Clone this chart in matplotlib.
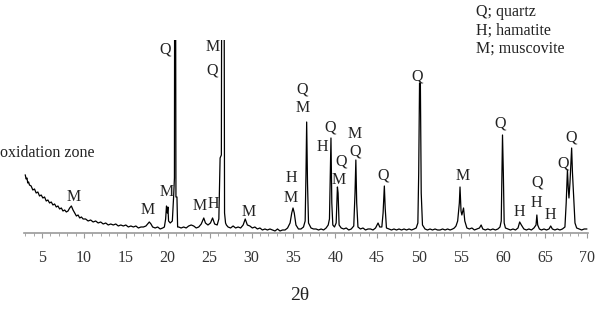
import matplotlib
matplotlib.use("Agg")
import matplotlib.pyplot as plt
from matplotlib.ticker import MultipleLocator

plt.rcParams['font.family'] = ['Liberation Serif', 'DejaVu Serif']

# XRD pattern: 2-theta and intensity (arbitrary units)
two_theta = [
    3.0, 3.1, 3.2, 3.3, 3.4, 3.5, 3.7, 3.9, 4.1, 4.3, 4.5, 4.7, 4.9, 5.1, 5.3,
    5.5, 5.7, 5.9, 6.1, 6.3, 6.5, 6.7, 6.9, 7.1, 7.3, 7.5, 7.7, 7.9, 8.1, 8.3,
    8.5, 8.7, 8.9, 9.1, 9.3, 9.5, 9.7, 9.9, 10.2, 10.5, 10.8, 11.1, 11.4, 11.7,
    12.0, 12.3, 12.6, 12.9, 13.2, 13.5, 13.8, 14.1, 14.4, 14.7, 15.0, 15.3,
    15.6, 15.9, 16.2, 16.5, 16.8, 17.1, 17.4, 17.6, 17.8, 18.0, 18.2, 18.5,
    18.8, 19.1, 19.4, 19.6, 19.75, 19.85, 19.95, 20.02, 20.1, 20.3, 20.55,
    20.7, 20.8, 20.83, 20.93, 20.98, 21.1, 21.18, 21.3, 21.6, 21.9, 22.2, 22.5,
    22.8, 23.1, 23.4, 23.7, 24.0, 24.3, 24.5, 24.8, 25.1, 25.35, 25.6, 25.9,
    26.1, 26.25, 26.4, 26.45, 26.72, 26.78, 26.9, 27.0, 27.2, 27.5, 27.8, 28.1,
    28.4, 28.7, 29.0, 29.25, 29.5, 29.8, 30.1, 30.4, 30.7, 31.0, 31.3, 31.6,
    31.9, 32.2, 32.5, 32.8, 33.1, 33.4, 33.7, 34.0, 34.3, 34.6, 34.8, 34.95,
    35.1, 35.3, 35.6, 35.9, 36.2, 36.4, 36.5, 36.58, 36.68, 36.8, 37.1, 37.4,
    37.7, 38.0, 38.3, 38.6, 38.9, 39.15, 39.3, 39.4, 39.48, 39.58, 39.7, 39.9,
    40.1, 40.25, 40.33, 40.45, 40.7, 41.0, 41.3, 41.6, 41.9, 42.2, 42.35,
    42.45, 42.55, 42.7, 43.0, 43.3, 43.6, 43.9, 44.2, 44.5, 44.8, 45.1, 45.3,
    45.55, 45.7, 45.85, 45.95, 46.1, 46.4, 46.7, 47.0, 47.3, 47.6, 47.9, 48.2,
    48.5, 48.8, 49.1, 49.4, 49.65, 49.85, 49.95, 50.05, 50.15, 50.25, 50.4,
    50.7, 51.0, 51.3, 51.6, 51.9, 52.2, 52.5, 52.8, 53.1, 53.4, 53.7, 54.0,
    54.2, 54.4, 54.6, 54.8, 54.88, 55.0, 55.1, 55.3, 55.45, 55.7, 56.0, 56.3,
    56.6, 56.9, 57.2, 57.4, 57.6, 57.9, 58.2, 58.5, 58.8, 59.1, 59.4, 59.65,
    59.8, 59.88, 59.95, 60.05, 60.15, 60.3, 60.6, 60.9, 61.2, 61.5, 61.8, 62.0,
    62.2, 62.5, 62.8, 63.1, 63.4, 63.7, 63.95, 64.05, 64.15, 64.35, 64.6, 64.9,
    65.2, 65.5, 65.7, 65.9, 66.2, 66.5, 66.8, 67.1, 67.4, 67.55, 67.7, 67.8,
    67.88, 68.0, 68.2, 68.3, 68.45, 68.6, 68.8, 69.1, 69.4, 69.7, 70.0,
]
intensity = [
    58, 54, 55, 50, 51, 48, 47, 43, 44, 40, 41, 37, 38, 35, 36,
    32, 33, 30, 31, 28, 29, 26, 27, 24, 25, 22, 23, 21, 22, 25,
    27, 23, 20, 17, 18, 15, 16, 14, 14, 12, 13, 11, 12, 10,
    11, 9, 10, 8, 9, 8, 9, 7, 8, 7, 8, 6,
    7, 6, 7, 5, 6, 6, 7, 9, 11, 9, 6, 5,
    6, 4, 5, 6, 14, 27, 20, 26, 12, 10, 12,
    36, 55, 300, 300, 36, 36, 6, 6, 5, 6, 5, 7,
    8, 7, 5, 6, 9, 15, 10, 8, 10, 15, 9, 8,
    14, 75, 78, 300, 300, 20, 10, 8, 6, 5, 7, 5,
    6, 5, 8, 14, 8, 7, 5, 6, 4, 5, 3, 4,
    3, 4, 3, 2, 4, 2, 3, 3, 5, 10, 20, 25,
    20, 8, 4, 4, 6, 12, 60, 111, 50, 10, 5, 4,
    4, 3, 4, 3, 5, 8, 14, 60, 95, 30, 8, 6,
    10, 46, 40, 8, 5, 4, 5, 3, 4, 7, 40,
    73, 30, 6, 4, 5, 3, 4, 4, 3, 5, 10, 6,
    6, 20, 47, 25, 5, 4, 3, 4, 3, 4, 3, 4,
    3, 4, 3, 4, 5, 10, 60, 150, 150, 40, 8,
    4, 3, 4, 3, 4, 3, 3, 4, 3, 4, 3, 4,
    5, 7, 12, 30, 46, 22, 18, 25, 12, 5, 4, 5,
    3, 4, 5, 8, 4, 3, 4, 3, 4, 3, 4, 6,
    12, 60, 98, 60, 10, 5, 4, 3, 4, 3, 5, 11,
    8, 4, 3, 4, 3, 5, 8, 18, 8, 4, 3, 4,
    3, 4, 7, 4, 3, 4, 3, 4, 6, 30, 63, 45,
    35, 50, 85, 60, 35, 10, 5, 4, 3, 4, 4,
]

# Phase labels: text, 2-theta, intensity position
label_text = ["M", "M", "M", "Q", "M", "Q", "M", "H", "M", "H", "M",
              "Q", "M", "Q", "H", "Q", "M", "M", "Q", "Q", "Q", "M",
              "Q", "H", "Q", "H", "H", "Q", "Q"]
label_x = [8.82, 17.65, 19.92, 19.68, 25.40, 25.29, 23.85, 25.40, 29.70,
           34.71, 34.71, 36.03, 36.15, 39.37, 38.41, 40.68, 40.44, 42.35,
           42.35, 45.69, 49.75, 55.24, 59.65, 61.92, 64.07, 63.95, 65.62,
           67.17, 68.13]
label_y = [36, 23, 41, 184, 186, 163, 27, 29, 21,
           55, 35, 144, 125, 106, 86, 71, 53, 99,
           81, 57, 157, 57, 110, 21, 50, 30, 18,
           69, 96]

legend_lines = ["Q; quartz", "H; hamatite", "M; muscovite"]
major_ticks = list(range(5, 71, 5))

fig = plt.figure(figsize=(6.02, 3.24), dpi=100)
ax = fig.add_axes([0.0392, 0.2809, 0.9382, 0.5956])
ax.plot(two_theta, intensity, color="black", lw=0.9)
ax.set_xlim(2.8, 70.2)
ax.set_ylim(0, 193)

for s in ("left", "right", "top"):
    ax.spines[s].set_visible(False)
ax.spines["bottom"].set_color("#9a9a9a")
ax.spines["bottom"].set_linewidth(1.2)
ax.set_yticks([])
ax.set_xticks(major_ticks)
ax.xaxis.set_minor_locator(MultipleLocator(1))
ax.tick_params(axis="x", which="major", direction="out", length=3.5,
               width=0.8, color="#9a9a9a", pad=9, labelsize=11.5,
               labelcolor="#333333")
ax.tick_params(axis="x", which="minor", direction="out", length=2.2,
               width=0.6, color="#9a9a9a")

for t, x, y in zip(label_text, label_x, label_y):
    ax.text(x, y, t, ha="center", va="center", fontsize=11.5, color="#222222")

fig.text(0.0, (324 - 153) / 324, "oxidation zone", ha="left", va="center",
         fontsize=11.5, color="#222222")
for i, line in enumerate(legend_lines):
    fig.text(476 / 602, (324 - 12 - 18.3 * i) / 324, line, ha="left",
             va="center", fontsize=11.5, color="#222222")
fig.text(300 / 602, (324 - 295) / 324, "2θ", ha="center", va="center",
         fontsize=14, color="#222222")

fig.savefig("out.png", dpi=100)
